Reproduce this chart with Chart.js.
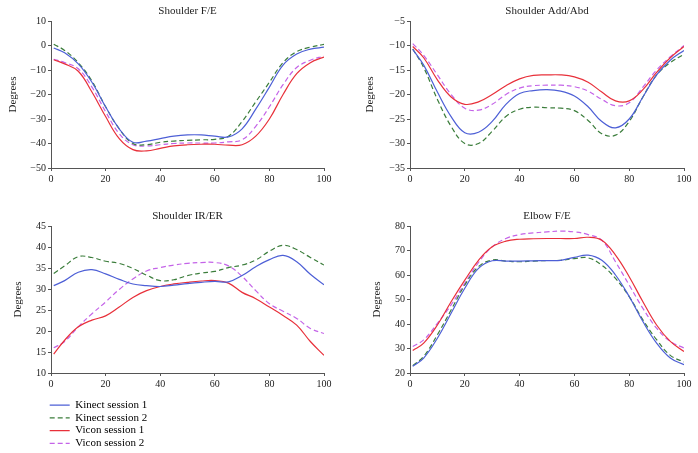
<!DOCTYPE html>
<html>
<head>
<meta charset="utf-8">
<script src="https://cdn.jsdelivr.net/npm/chart.js@4.4.1/dist/chart.umd.min.js"></script>
<style>
  body { margin: 0; background: #fff; }
  #wrap { position: relative; width: 698px; height: 453px; }
  .box { position: absolute; }
</style>
</head>
<body>
<div id="wrap">
  <div class="box" style="left:0;top:0;width:349px;height:200px"><canvas id="c1"></canvas></div>
  <div class="box" style="left:349px;top:0;width:349px;height:200px"><canvas id="c2"></canvas></div>
  <div class="box" style="left:0;top:200px;width:349px;height:195px"><canvas id="c3"></canvas></div>
  <div class="box" style="left:349px;top:200px;width:349px;height:195px"><canvas id="c4"></canvas></div>
  <div class="box" style="left:48px;top:398px;width:320px;height:55px"><canvas id="cLegend"></canvas></div>
</div>
<script>
// % of cycle
const xs = [1, 5, 10, 15, 20, 25, 30, 35, 40, 45, 50, 55, 60, 65, 70, 75, 80, 85, 90, 95, 100];

const seriesNames = ["Kinect session 1", "Kinect session 2", "Vicon session 1", "Vicon session 2"];

// Shoulder F/E
const shFE_kinect1 = [-1, -3, -7.5, -15, -25, -34, -39.5, -39, -38, -37, -36.5, -36.5, -37, -37.3, -34, -26, -17, -8, -3.5, -1.5, -0.7];
const shFE_kinect2 = [0.5, -2, -7, -14.5, -25, -34, -40, -40.5, -39.5, -39, -38.7, -38.5, -38.3, -37, -31, -23, -15, -7, -2.5, -0.7, 0.5];
const shFE_vicon1 = [-5.8, -7.5, -10.5, -19, -29, -38, -42.5, -43, -42, -41, -40.5, -40.3, -40.3, -40.7, -40.5, -37, -30, -20, -11.5, -7, -4.7];
const shFE_vicon2 = [-5.6, -7, -9.5, -17, -27, -36, -40.5, -41, -40.5, -40, -39.8, -39.8, -39.8, -39.3, -38.5, -33, -25, -16, -9, -6, -4.3];

// Shoulder Add/Abd
const shAA_kinect1 = [-10.8, -14, -19.5, -24.5, -27.8, -27.7, -25.5, -22, -19.8, -19.2, -19, -19.3, -20.3, -22.5, -25.5, -26.8, -25, -20.5, -16, -13, -11];
const shAA_kinect2 = [-10.7, -14.5, -21, -26.5, -30, -30, -27.5, -24.5, -23, -22.6, -22.7, -22.8, -23.3, -25.3, -28, -28.3, -25.5, -20.5, -16, -13.5, -11.8];
const shAA_vicon1 = [-10.2, -12.5, -17, -20.5, -22, -21.5, -20, -18.2, -16.8, -16.1, -16, -16, -16.4, -17.5, -19.5, -21.3, -21.3, -19, -15.5, -12.5, -10.2];
const shAA_vicon2 = [-9.6, -12, -16, -20, -22.8, -23.2, -22, -20, -18.7, -18.2, -18.1, -18.1, -18.4, -19.3, -21, -22.3, -21.7, -18.5, -15, -12.3, -10];

// Shoulder IR/ER
const shIR_kinect1 = [30.8, 32, 34, 34.6, 33.6, 32.3, 31.2, 30.8, 30.6, 30.9, 31.3, 31.6, 31.8, 31.7, 33.2, 35.3, 37, 38, 36.5, 33.5, 31];
const shIR_kinect2 = [33.7, 35.5, 37.7, 37.5, 36.6, 36.1, 34.9, 33.3, 32, 32.2, 33.2, 33.8, 34.2, 35.1, 35.7, 36.9, 39, 40.4, 39.4, 37.5, 35.7];
const shIR_vicon1 = [14.5, 17.8, 21, 22.6, 23.6, 25.7, 28, 29.6, 30.6, 31.2, 31.6, 31.9, 32, 31.4, 29.2, 27.7, 25.7, 23.7, 21.4, 17.5, 14.2];
const shIR_vicon2 = [16, 17.5, 21, 24.1, 26.9, 29.9, 32.4, 34.3, 35.1, 35.7, 36.1, 36.3, 36.3, 35.5, 33, 29.6, 26.5, 24.7, 23, 20.6, 19.4];

// Elbow F/E
const elFE_kinect1 = [22.7, 26.1, 34.2, 44.4, 54.6, 62.7, 65.8, 65.7, 65.7, 65.8, 65.9, 66, 67.2, 68.1, 66, 60, 51.2, 41, 32.2, 26.1, 23.4];
const elFE_kinect2 = [23, 26.8, 35.6, 45.7, 55.9, 63.4, 66.1, 65.7, 65.4, 65.7, 65.9, 66, 66.7, 67, 64, 58.6, 51.2, 41.7, 33.6, 27.2, 24.5];
const elFE_vicon1 = [29.2, 32.2, 39.6, 49.1, 57.9, 66, 71.5, 73.8, 74.6, 74.8, 74.9, 74.9, 74.9, 75.4, 74.2, 68.1, 59.3, 49.1, 39.6, 32.9, 28.8];
const elFE_vicon2 = [30.8, 33.5, 40.3, 47.8, 56.6, 65.1, 71.5, 74.9, 76.5, 77.2, 77.6, 77.9, 77.6, 76.5, 74.2, 65.4, 55.9, 46.4, 38.3, 32.9, 30.2];

const colors = ["#4d5fd6", "#3b7d3b", "#e8303a", "#c463e8"];
const dashes = [[], [5, 3], [], [5, 3]];

Chart.defaults.font.family = "'Liberation Serif', 'DejaVu Serif', serif";
Chart.defaults.color = "#222";

function makeDatasets(lists) {
    return lists.map((vals, i) => ({
        label: seriesNames[i],
        data: vals.map((v, j) => ({ x: xs[j], y: v })),
        borderColor: colors[i],
        backgroundColor: colors[i],
        borderDash: dashes[i],
        borderWidth: 1.2,
        pointRadius: 0,
        tension: 0.4,
        fill: false
    }));
}

const minus = v => String(v).replace("-", "\u2212");

function makePanel(id, title, lists, yMin, yMax, yStep, o) {
    new Chart(document.getElementById(id), {
        type: "line",
        data: { datasets: makeDatasets(lists) },
        options: {
            animation: false,
            responsive: true,
            maintainAspectRatio: false,
            layout: { padding: { left: 0, right: o.right, top: 0, bottom: o.bottom } },
            plugins: {
                legend: { display: false },
                tooltip: { enabled: false },
                title: {
                    display: true,
                    fullSize: false,   // centre over the plot, not the canvas
                    text: title,
                    color: "#222",
                    font: { size: 11, weight: "normal" },
                    padding: { top: o.titleTop, bottom: 3.4 }
                }
            },
            scales: {
                x: {
                    type: "linear",
                    min: 0, max: 100,
                    ticks: { stepSize: 20, padding: 2, color: "#222", font: { size: 10 }, maxRotation: 0 },
                    grid: { drawOnChartArea: false, drawTicks: true, tickLength: 3, color: "#555" },
                    border: { color: "#555", width: 1 },
                    afterFit: s => { s.height = 20; }
                },
                y: {
                    min: yMin, max: yMax,
                    ticks: { stepSize: yStep, padding: 2, color: "#222", font: { size: 10 }, callback: minus },
                    grid: { drawOnChartArea: false, drawTicks: true, tickLength: 3, color: "#555" },
                    border: { color: "#555", width: 1 },
                    title: { display: true, text: "Degrees", color: "#222", font: { size: 11 }, padding: { top: o.labelPad, bottom: 0 } },
                    afterFit: s => { s.width = o.yWidth; }
                }
            }
        }
    });
}

makePanel("c1", "Shoulder F/E", [shFE_kinect1, shFE_kinect2, shFE_vicon1, shFE_vicon2], -50, 10, 10,
    { right: 25, bottom: 12, titleTop: 4.4, yWidth: 51, labelPad: 7 });
makePanel("c2", "Shoulder Add/Abd", [shAA_kinect1, shAA_kinect2, shAA_vicon1, shAA_vicon2], -35, -5, 5,
    { right: 14, bottom: 12, titleTop: 4.4, yWidth: 61, labelPad: 15 });
makePanel("c3", "Shoulder IR/ER", [shIR_kinect1, shIR_kinect2, shIR_vicon1, shIR_vicon2], 10, 45, 5,
    { right: 25, bottom: 2, titleTop: 9.4, yWidth: 51, labelPad: 12 });
makePanel("c4", "Elbow F/E", [elFE_kinect1, elFE_kinect2, elFE_vicon1, elFE_vicon2], 20, 80, 10,
    { right: 14, bottom: 2, titleTop: 9.4, yWidth: 61, labelPad: 22 });

// legend drawn by its own small chart, sample lines keep the dash of each series
new Chart(document.getElementById("cLegend"), {
    type: "line",
    data: { datasets: makeDatasets([[], [], [], []]) },
    options: {
        animation: false,
        responsive: true,
        maintainAspectRatio: false,
        layout: { padding: 0 },
        scales: { x: { display: false }, y: { display: false } },
        plugins: {
            tooltip: { enabled: false },
            legend: {
                position: "left",
                align: "start",
                labels: {
                    usePointStyle: true,
                    pointStyle: "line",
                    pointStyleWidth: 20,
                    color: "#222",
                    font: { size: 11 },
                    padding: 1.7,
                    generateLabels: chart => chart.data.datasets.map((ds, i) => ({
                        text: ds.label,
                        strokeStyle: ds.borderColor,
                        fillStyle: ds.borderColor,
                        lineDash: ds.borderDash,
                        lineWidth: ds.borderWidth,
                        pointStyle: "line",
                        hidden: false,
                        datasetIndex: i
                    }))
                }
            }
        }
    }
});
</script>
</body>
</html>
